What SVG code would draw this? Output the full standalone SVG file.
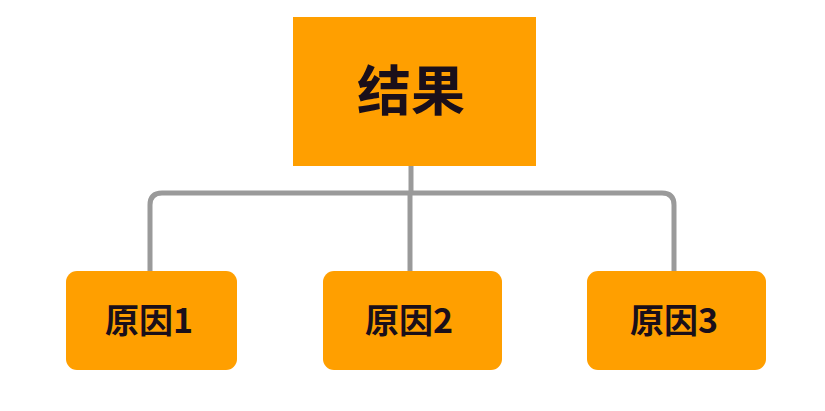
<svg xmlns="http://www.w3.org/2000/svg" width="825" height="411" viewBox="0 0 825 411">
<style>
.box{fill:#FF9F00}
.t{font-family:"Noto Sans CJK SC","Noto Sans",sans-serif;font-weight:bold;fill:#1a0f1a;text-anchor:middle}
.c{fill:none;stroke:#9a9a9a;stroke-width:5;stroke-linejoin:round}
</style>
<rect width="825" height="411" fill="#ffffff"/>
<g id="connectors">
<path class="c" d="M411 166 V193"/>
<path class="c" d="M150 271 V205 Q150 193 162 193 H662 Q674 193 674 205 V271"/>
<path class="c" d="M410 193 V271"/>
</g>
<g id="result">
<rect class="box" x="293" y="17" width="243" height="149"/>
<text class="t" x="411" y="111" font-size="54">结果</text>
</g>
<g id="cause1">
<rect class="box" x="66" y="271" width="171" height="99" rx="11"/>
<text class="t" x="149" y="333" font-size="34">原因1</text>
</g>
<g id="cause2">
<rect class="box" x="323" y="271" width="179" height="99" rx="11"/>
<text class="t" x="409" y="333" font-size="34">原因2</text>
</g>
<g id="cause3">
<rect class="box" x="587" y="271" width="179" height="99" rx="11"/>
<text class="t" x="674" y="333" font-size="34">原因3</text>
</g>
</svg>
